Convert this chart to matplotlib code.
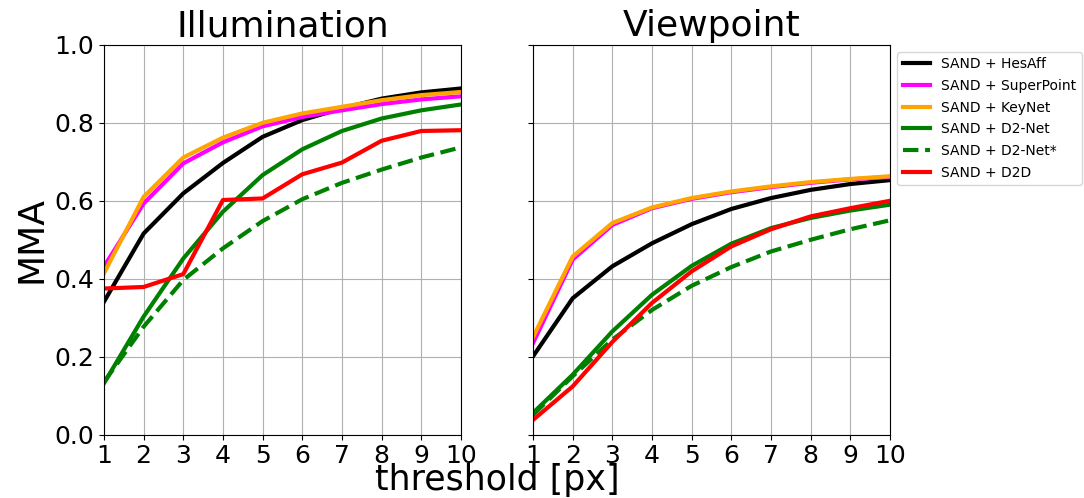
import matplotlib
matplotlib.use('agg')
import matplotlib.pyplot as plt
import numpy as np

thresholds = np.arange(1, 11)

labels = ['SAND + HesAff', 'SAND + SuperPoint', 'SAND + KeyNet',
          'SAND + D2-Net', 'SAND + D2-Net*', 'SAND + D2D']
colors = ['black', 'magenta', 'orange', 'green', 'green', 'red']
styles = ['-', '-', '-', '-', '--', '-']

# illumination MMA per method
illum_hesaff = [0.341, 0.516, 0.619, 0.697, 0.764, 0.807, 0.837, 0.862, 0.878, 0.888]
illum_superpoint = [0.431, 0.593, 0.696, 0.750, 0.791, 0.815, 0.832, 0.848, 0.860, 0.868]
illum_keynet = [0.414, 0.610, 0.711, 0.762, 0.800, 0.824, 0.841, 0.858, 0.871, 0.879]
illum_d2net = [0.132, 0.303, 0.452, 0.572, 0.666, 0.732, 0.779, 0.811, 0.832, 0.847]
illum_d2net_star = [0.135, 0.277, 0.397, 0.478, 0.548, 0.604, 0.646, 0.680, 0.711, 0.737]
illum_d2d = [0.375, 0.379, 0.412, 0.602, 0.606, 0.668, 0.698, 0.754, 0.779, 0.781]

# viewpoint MMA per method
view_hesaff = [0.201, 0.350, 0.432, 0.491, 0.540, 0.579, 0.607, 0.628, 0.643, 0.653]
view_superpoint = [0.235, 0.449, 0.538, 0.581, 0.605, 0.622, 0.635, 0.646, 0.655, 0.661]
view_keynet = [0.250, 0.457, 0.543, 0.583, 0.607, 0.624, 0.637, 0.648, 0.656, 0.663]
view_d2net = [0.056, 0.154, 0.265, 0.359, 0.433, 0.490, 0.530, 0.556, 0.575, 0.590]
view_d2net_star = [0.051, 0.150, 0.244, 0.320, 0.382, 0.430, 0.470, 0.500, 0.527, 0.550]
view_d2d = [0.038, 0.124, 0.238, 0.338, 0.419, 0.483, 0.527, 0.560, 0.581, 0.600]

illum = [illum_hesaff, illum_superpoint, illum_keynet, illum_d2net, illum_d2net_star, illum_d2d]
view = [view_hesaff, view_superpoint, view_keynet, view_d2net, view_d2net_star, view_d2d]

fig = plt.figure(figsize=(10.84, 4.98), dpi=100)
ax1 = fig.add_axes([0.0959, 0.127, 0.3293, 0.783])
ax2 = fig.add_axes([0.4917, 0.127, 0.3293, 0.783], sharey=ax1)

for ax, data, title in [(ax1, illum, 'Illumination'), (ax2, view, 'Viewpoint')]:
    for vals, lab, col, ls in zip(data, labels, colors, styles):
        ax.plot(thresholds, vals, color=col, linestyle=ls, linewidth=3, label=lab)
    ax.set_title(title, fontsize=26)
    ax.set_xlim(1, 10)
    ax.set_ylim(0, 1)
    ax.set_xticks(thresholds)
    ax.grid(True)
    ax.tick_params(labelsize=18)

plt.setp(ax2.get_yticklabels(), visible=False)
ax1.set_ylabel('MMA', fontsize=26)
fig.text(0.4585, 0.003, 'threshold [px]', fontsize=25, ha='center', va='bottom')

handles, labs = ax1.get_legend_handles_labels()
fig.legend(handles, labs, loc='upper left', bbox_to_anchor=(0.8275, 0.896),
           fontsize=10, labelspacing=0.55, borderaxespad=0)

fig.savefig('out.png', dpi=100)
